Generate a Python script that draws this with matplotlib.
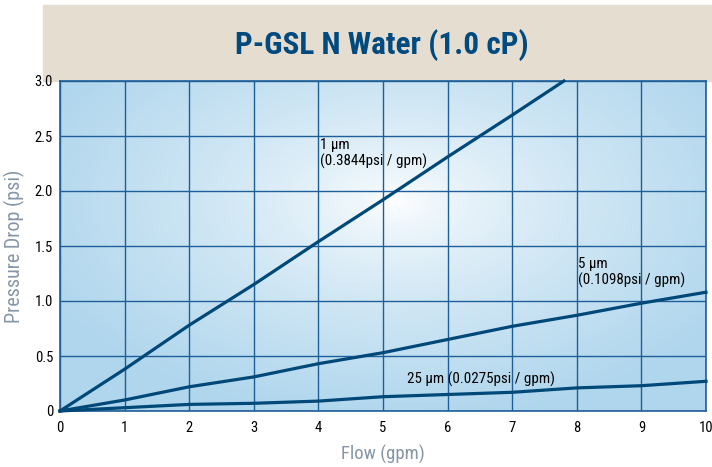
import numpy as np
import matplotlib.pyplot as plt
import matplotlib.patches as mpatches

plt.rcParams['font.family'] = ['Roboto Condensed', 'DejaVu Sans']

# data
flow_1um = [0, 1, 2, 3, 4, 5, 6, 7, 7.8]
dp_1um = [0, 0.38, 0.78, 1.15, 1.54, 1.92, 2.31, 2.69, 3.0]
flow = [0, 1, 2, 3, 4, 5, 6, 7, 8, 9, 10]
dp_5um = [0, 0.10, 0.22, 0.31, 0.43, 0.53, 0.65, 0.77, 0.87, 0.98, 1.08]
dp_25um = [0, 0.03, 0.06, 0.07, 0.09, 0.13, 0.15, 0.17, 0.21, 0.23, 0.27]
xticks = [0, 1, 2, 3, 4, 5, 6, 7, 8, 9, 10]
yticks = [0, 0.5, 1.0, 1.5, 2.0, 2.5, 3.0]
ylabels = ['0', '0.5', '1.0', '1.5', '2.0', '2.5', '3.0']

navy = '#004878'
gridc = '#1f5f99'

fig = plt.figure(figsize=(7.12, 4.67), dpi=100)
# title band
fig.patches.append(mpatches.Rectangle((43/712, 1-81/467), 1-43/712, 76/467,
                                      transform=fig.transFigure, color='#e4ddd0', zorder=-5))
fig.text(382/712, 1-45/467, 'P-GSL N Water (1.0 cP)', ha='center', va='center',
         fontsize=22.5, fontweight='bold', color='#004a80')

ax = fig.add_axes([60/712, 1-411/467, 646/712, 330/467])
# radial background
gx, gy = np.meshgrid(np.linspace(0, 10, 300), np.linspace(0, 3, 200))
r = np.sqrt(((gx - 5.2) / 6.0) ** 2 + ((gy - 1.9) / 2.0) ** 2)
r = np.clip(r, 0, 1)
c0 = np.array([1.0, 1.0, 1.0])
c1 = np.array([0.69, 0.84, 0.93])
img = c0 + (c1 - c0) * r[..., None] ** 0.7
ax.imshow(img, extent=[0, 10, 0, 3], origin='lower', aspect='auto', zorder=0)

ax.set_xlim(0, 10)
ax.set_ylim(0, 3)
ax.set_xticks(xticks)
ax.set_yticks(yticks)
ax.set_yticklabels(ylabels)
ax.grid(True, color=gridc, linewidth=1, zorder=1)
ax.set_axisbelow(False)
for s in ax.spines.values():
    s.set_color(gridc)
    s.set_linewidth(1.2)
ax.tick_params(length=0, labelsize=10.5, colors='black', pad=5)
ax.tick_params(axis='x', pad=7)

ax.plot(flow_1um, dp_1um, color=navy, linewidth=2.3, zorder=3, clip_on=False)
ax.plot(flow, dp_5um, color=navy, linewidth=2.3, zorder=3, clip_on=False)
ax.plot(flow, dp_25um, color=navy, linewidth=2.3, zorder=3, clip_on=False)

ax.text(4.02, 2.34, '1 µm\n(0.3844psi / gpm)', fontsize=10.8, va='center', ha='left', linespacing=1.1)
ax.text(8.02, 1.26, '5 µm\n(0.1098psi / gpm)', fontsize=10.8, va='center', ha='left', linespacing=1.1)
ax.text(5.37, 0.29, '25 µm (0.0275psi / gpm)', fontsize=10.8, va='center', ha='left')

ax.set_xlabel('Flow (gpm)', fontsize=13.5, color='#8696a6', labelpad=7)
ax.set_ylabel('Pressure Drop (psi)', fontsize=14.5, color='#8696a6', labelpad=7)

fig.savefig('out.png', dpi=100)
